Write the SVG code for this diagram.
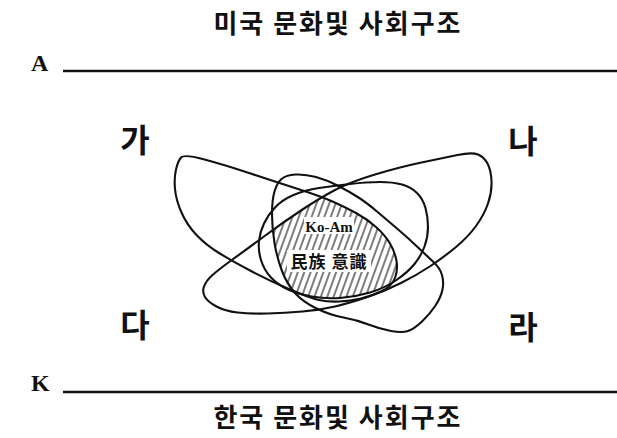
<svg xmlns="http://www.w3.org/2000/svg" xmlns:xlink="http://www.w3.org/1999/xlink" width="617" height="438" viewBox="0 0 617 438">
<style>
.loop{fill:none;stroke:#111;stroke-width:2.1;stroke-linejoin:round}
.kr{font-family:"Noto Sans CJK KR","Noto Sans CJK SC",sans-serif;font-weight:700;fill:#111}
.lat{font-family:"Liberation Serif",serif;font-weight:700;fill:#111}
.axis{stroke:#111;stroke-width:2.6}
</style>
<defs>
<path id="pA" d="M181,157.5 Q184,154 204.5,159.5 Q225,165 249,173 Q273,181 296.5,188.5 Q320,196 332.5,201.5 Q345,207 356,213 Q367,219 376,227 Q385,235 390,243.5 Q395,252 396.5,261 Q398,270 395,278 Q392,286 382,291 Q372,296 361,298.5 Q350,301 339,301.5 Q328,302 319,300 Q310,298 290,289.5 Q270,281 251,271 Q232,261 219,253 Q206,245 196.5,235 Q187,225 181.5,212.5 Q176,200 175,189 Q174,178 176,169.5 Q178,161 181,157.5 Z"/>
<path id="pB" d="M457.5,155 Q472,152 478,154.5 Q484,157 487.5,163.5 Q491,170 491.5,181 Q492,192 488,203.5 Q484,215 476,226 Q468,237 456,247 Q444,257 430.5,266 Q417,275 401,283 Q385,291 367.5,297 Q350,303 335,306.5 Q320,310 302.5,311.5 Q285,313 267.5,313.5 Q250,314 237.5,312.5 Q225,311 216.5,306.5 Q208,302 205,297 Q202,292 204,286.5 Q206,281 212,275.5 Q218,270 232.5,259.5 Q247,249 266,235 Q285,221 302.5,209.5 Q320,198 335,190 Q350,182 375,174.5 Q400,167 421.5,162.5 Q443,158 457.5,155 Z"/>
<path id="pC" d="M281.5,179 Q286,175 295.5,174.5 Q305,174 316,177 Q327,180 338.5,186 Q350,192 358.5,197.5 Q367,203 377,211.5 Q387,220 397,228.5 Q407,237 417,246.5 Q427,256 433.5,262 Q440,268 442,275 Q444,282 442.5,289.5 Q441,297 435.5,305.5 Q430,314 422,321.5 Q414,329 408,331 Q402,333 391,331 Q380,329 368.5,324.5 Q357,320 343.5,317.5 Q330,315 316.5,308.5 Q303,302 295,293 Q287,284 282,271 Q277,258 274.5,243 Q272,228 272,214 Q272,200 274.5,191.5 Q277,183 281.5,179 Z"/>
<path id="pD" d="M319,188 Q333,186 350,184 Q367,182 380,182 Q393,182 402,184.5 Q411,187 417,193 Q423,199 425.5,208 Q428,217 428,227 Q428,237 424.5,246.5 Q421,256 414.5,264 Q408,272 396.5,280 Q385,288 370,292.5 Q355,297 340,298 Q325,299 311.5,296.5 Q298,294 288,289.5 Q278,285 271,277.5 Q264,270 261,260 Q258,250 259,241 Q260,232 264,223.5 Q268,215 275,207.5 Q282,200 293.5,195 Q305,190 319,188 Z"/>
<clipPath id="cA"><use xlink:href="#pA"/></clipPath>
<clipPath id="cB"><use xlink:href="#pB"/></clipPath>
<clipPath id="cC"><use xlink:href="#pC"/></clipPath>
<clipPath id="cD"><use xlink:href="#pD"/></clipPath>
<pattern id="hatch" patternUnits="userSpaceOnUse" width="6" height="6" patternTransform="rotate(20)">
<line x1="1" y1="0" x2="1" y2="6" stroke="#111" stroke-width="1.1"/>
</pattern>
</defs>
<rect width="617" height="438" fill="#fff"/>

<g id="title-top"><text class="kr" x="338" y="33" font-size="26" text-anchor="middle" letter-spacing="2">미국 문화및 사회구조</text></g>
<g id="axis-A">
<text class="lat" x="31" y="71" font-size="24">A</text>
<line class="axis" x1="63" y1="71" x2="617" y2="71"/>
</g>
<g id="axis-K">
<text class="lat" x="31" y="391" font-size="24">K</text>
<line class="axis" x1="63" y1="392" x2="617" y2="392"/>
</g>
<g id="title-bottom"><text class="kr" x="338" y="427" font-size="26" text-anchor="middle" letter-spacing="2">한국 문화및 사회구조</text></g>

<g id="label-ga"><text class="kr" x="135" y="152" font-size="32" text-anchor="middle">가</text></g>
<g id="label-na"><text class="kr" x="523" y="153" font-size="32" text-anchor="middle">나</text></g>
<g id="label-da"><text class="kr" x="135" y="337" font-size="32" text-anchor="middle">다</text></g>
<g id="label-ra"><text class="kr" x="523" y="339" font-size="32" text-anchor="middle">라</text></g>

<g id="core">
<g clip-path="url(#cA)"><g clip-path="url(#cB)"><g clip-path="url(#cC)"><g clip-path="url(#cD)">
<rect x="250" y="170" width="200" height="160" fill="url(#hatch)"/>
</g></g></g></g>
<rect x="304" y="217" width="50" height="17" fill="#fff"/>
<rect x="287" y="250" width="84" height="22" fill="#fff"/>
</g>

<g id="connectors">
<g id="loop-A"><use xlink:href="#pA" class="loop"/></g>
<g id="loop-B"><use xlink:href="#pB" class="loop"/></g>
<g id="loop-C"><use xlink:href="#pC" class="loop"/></g>
<g id="loop-D"><use xlink:href="#pD" class="loop"/></g>
</g>

<g id="core-labels">
<text class="lat" x="329" y="232" font-size="15" text-anchor="middle">Ko-Am</text>
<text class="kr" x="329" y="268" font-size="17" text-anchor="middle" letter-spacing="1">民族 意識</text>
</g>
</svg>
